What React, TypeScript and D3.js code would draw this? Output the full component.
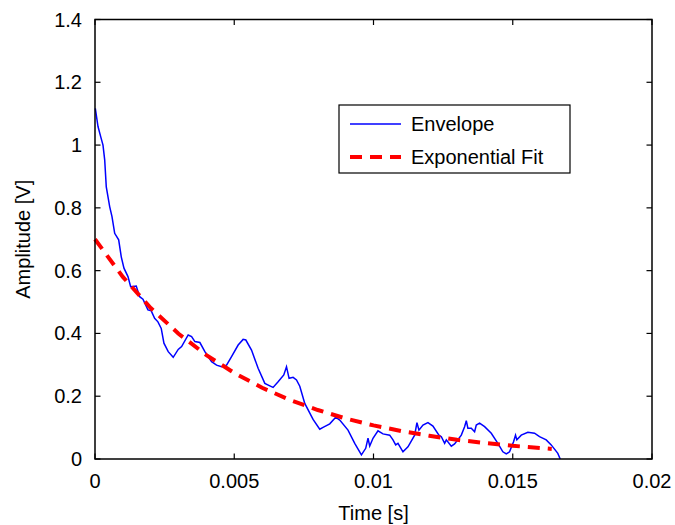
import React from "react";
import * as d3 from "d3";

// envelope samples: time in ms, amplitude in V
const envTime = [
  0.011, 0.108, 0.204, 0.287, 0.348, 0.405, 0.527, 0.61, 0.707, 0.85, 0.943, 1.04, 1.184, 1.28,
  1.481, 1.603, 1.722, 1.901, 2.019, 2.141, 2.26, 2.378, 2.475, 2.629, 2.808, 2.988, 3.11, 3.346,
  3.468, 3.587, 3.766, 3.945, 4.186, 4.365, 4.544, 4.724, 4.903, 5.14, 5.319, 5.416, 5.62, 5.857,
  6.098, 6.277, 6.395, 6.575, 6.779, 6.876, 6.969, 7.113, 7.235, 7.353, 7.532, 7.83, 8.07, 8.189,
  8.429, 8.644, 8.788, 9.085, 9.326, 9.566, 9.72, 9.803, 9.864, 9.982, 10.161, 10.341, 10.581,
  10.7, 10.796, 10.879, 11.058, 11.238, 11.478, 11.56, 11.632, 11.776, 11.955, 12.134, 12.349,
  12.436, 12.554, 12.615, 12.794, 12.912, 13.153, 13.271, 13.332, 13.389, 13.511, 13.63, 13.691,
  13.809, 13.989, 14.229, 14.466, 14.645, 14.767, 14.885, 15.029, 15.1, 15.147, 15.305, 15.542,
  15.782, 15.961, 16.202, 16.381, 16.618, 16.704,
];
const envAmp = [
  1.117, 1.059, 1.027, 1.0, 0.953, 0.867, 0.804, 0.772, 0.719, 0.698, 0.644, 0.608, 0.581, 0.549,
  0.551, 0.517, 0.509, 0.475, 0.472, 0.448, 0.437, 0.416, 0.369, 0.342, 0.324, 0.349, 0.358, 0.395,
  0.39, 0.374, 0.371, 0.342, 0.31, 0.299, 0.294, 0.299, 0.326, 0.363, 0.381, 0.379, 0.347, 0.289,
  0.241, 0.233, 0.228, 0.246, 0.268, 0.294, 0.257, 0.26, 0.252, 0.232, 0.177, 0.126, 0.095, 0.101,
  0.112, 0.133, 0.124, 0.092, 0.05, 0.013, 0.034, 0.066, 0.041, 0.066, 0.09, 0.08, 0.076,
  0.061, 0.045, 0.05, 0.023, 0.039, 0.076, 0.116, 0.092, 0.108, 0.116, 0.105, 0.076,
  0.071, 0.05, 0.061, 0.041, 0.048, 0.076, 0.103, 0.122, 0.098, 0.098, 0.087, 0.108,
  0.114, 0.103, 0.082, 0.05, 0.023, 0.016, 0.023, 0.055, 0.076, 0.061, 0.076, 0.085,
  0.082, 0.071, 0.061, 0.045, 0.018, 0.0,
];

// exponential fit curve, read at 1 ms steps
const fitTime = [0, 1, 2, 3, 4, 5, 6, 7, 8, 9, 10, 11, 12, 13, 14, 15, 16, 16.4];
const fitAmp = [
  0.7, 0.58, 0.481, 0.399, 0.331, 0.274, 0.227, 0.188, 0.156, 0.129, 0.107, 0.089, 0.074, 0.061,
  0.051, 0.042, 0.035, 0.032,
];

const xTicks = [0, 0.005, 0.01, 0.015, 0.02];
const xTickLabels = ["0", "0.005", "0.01", "0.015", "0.02"];
const yTicks = [0, 0.2, 0.4, 0.6, 0.8, 1, 1.2, 1.4];
const yTickLabels = ["0", "0.2", "0.4", "0.6", "0.8", "1", "1.2", "1.4"];
const legendLabels = ["Envelope", "Exponential Fit"];

const W = 675;
const H = 525;
const left = 95;
const right = 652;
const top = 19.5;
const bottom = 459;
const font = "'Liberation Sans', Arial, sans-serif";

export default function App() {
  const x = d3.scaleLinear().domain([0, 0.02]).range([left, right]);
  const y = d3.scaleLinear().domain([0, 1.4]).range([bottom, top]);

  const line = d3
    .line<[number, number]>()
    .x((d) => x(d[0] / 1000))
    .y((d) => y(d[1]));

  const envPath = line(envTime.map((t, i) => [t, envAmp[i]]));
  const fitPath = line(fitTime.map((t, i) => [t, fitAmp[i]]));

  const tickLen = 5.5;

  return (
    <svg
      width={W}
      height={H}
      style={{ position: "absolute", left: 0, top: 0, background: "#fff" }}
      fontFamily={font}
    >
      <rect x={0} y={0} width={W} height={H} fill="#fff" />
      <path d={envPath || ""} fill="none" stroke="#0000ff" strokeWidth={1.5} />
      <path
        d={fitPath || ""}
        fill="none"
        stroke="#ff0000"
        strokeWidth={4}
        strokeDasharray="12,8"
      />

      {/* ticks on all four sides, pointing in */}
      {xTicks.map((t, i) => (
        <g key={"x" + i}>
          <line x1={x(t)} x2={x(t)} y1={bottom} y2={bottom - tickLen} stroke="#000" strokeWidth={1.2} />
          <line x1={x(t)} x2={x(t)} y1={top} y2={top + tickLen} stroke="#000" strokeWidth={1.2} />
          <text x={x(t)} y={488} textAnchor="middle" fontSize={20} fill="#000">
            {xTickLabels[i]}
          </text>
        </g>
      ))}
      {yTicks.map((t, i) => (
        <g key={"y" + i}>
          <line x1={left} x2={left + tickLen} y1={y(t)} y2={y(t)} stroke="#000" strokeWidth={1.2} />
          <line x1={right} x2={right - tickLen} y1={y(t)} y2={y(t)} stroke="#000" strokeWidth={1.2} />
          <text x={82} y={y(t) + 7} textAnchor="end" fontSize={20} fill="#000">
            {yTickLabels[i]}
          </text>
        </g>
      ))}

      <rect
        x={left}
        y={top}
        width={right - left}
        height={bottom - top}
        fill="none"
        stroke="#000"
        strokeWidth={1.5}
      />

      <text x={(left + right) / 2} y={520} textAnchor="middle" fontSize={20} fill="#000">
        Time [s]
      </text>
      <text
        transform={`translate(30, ${(top + bottom) / 2}) rotate(-90)`}
        textAnchor="middle"
        fontSize={20}
        fill="#000"
      >
        Amplitude [V]
      </text>

      {/* legend */}
      <rect x={339} y={105} width={231} height={68} fill="#fff" stroke="#000" strokeWidth={1.2} />
      <line x1={350} x2={401} y1={124} y2={124} stroke="#0000ff" strokeWidth={1.5} />
      <line x1={350} x2={401} y1={157} y2={157} stroke="#ff0000" strokeWidth={4} strokeDasharray="12,8" />
      <text x={411} y={131} fontSize={20} fill="#000">
        {legendLabels[0]}
      </text>
      <text x={411} y={164} fontSize={20} fill="#000">
        {legendLabels[1]}
      </text>
    </svg>
  );
}
